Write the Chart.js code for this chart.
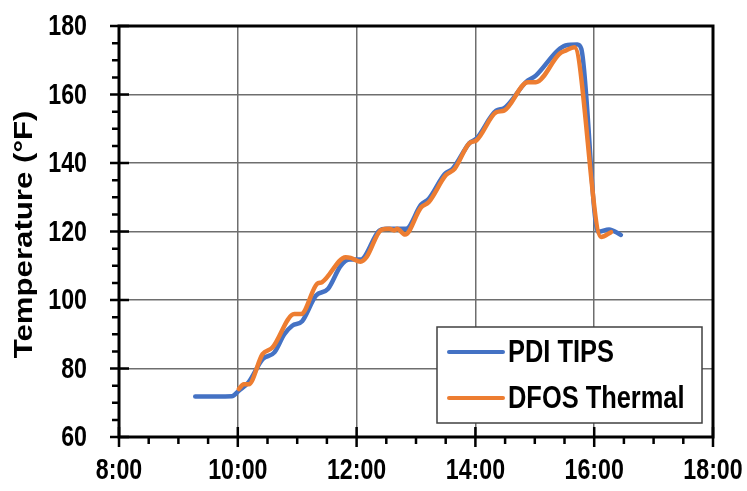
<!DOCTYPE html>
<html>
<head>
<meta charset="utf-8">
<script src="https://cdn.jsdelivr.net/npm/chart.js@4.4.1/dist/chart.umd.min.js"></script>
<style>
  html, body { margin: 0; padding: 0; background: #fff; }
  #wrap { width: 747px; height: 491px; }
</style>
</head>
<body>
<div id="wrap"><canvas id="c" width="747" height="491"></canvas></div>
<script>
// Temperature readings, time of day (H:MM) and °F
const pdiTimes = ['9:17','9:54','10:01','10:11','10:25','10:37','10:47','10:55','11:05','11:19','11:31','11:44','11:53','12:04','12:23','12:30','12:50','13:05','13:13','13:29','13:37','13:54','14:01','14:21','14:29','14:51','15:01','15:23','15:31','15:43','15:47','16:04','16:15','16:27'];
const pdiTemps = [71.8,71.9,73.5,76.0,82.7,84.7,90.0,92.5,93.8,101.3,103.2,110.0,111.8,111.8,120.3,120.8,120.8,127.8,129.6,136.8,138.3,145.8,147.1,155.3,156.0,163.6,165.5,172.8,174.3,174.6,173.3,119.9,120.6,119.0];

const dfosTimes = ['10:01','10:06','10:11','10:25','10:35','10:57','11:04','11:20','11:25','11:49','11:54','12:04','12:10','12:25','12:33','12:38','12:41','12:49','13:05','13:13','13:30','13:39','13:54','14:01','14:21','14:29','14:53','15:01','15:25','15:31','15:40','16:07','16:17'];
const dfosTemps = [74.0,75.4,75.4,84.2,86.1,95.9,95.9,104.7,105.2,112.5,112.3,111.2,112.5,120.5,120.8,120.3,120.8,119.1,127.0,128.6,136.4,138.3,145.8,146.6,154.8,155.3,163.6,163.6,171.9,172.8,173.8,118.4,119.8];

const seriesNames = ['PDI TIPS', 'DFOS Thermal'];
const axisTitle = 'Temperature (°F)';

const toHours = s => { const [h, m] = s.split(':').map(Number); return h + m / 60; };
const pairs = (times, temps) => times.map((t, i) => ({ x: toHours(t), y: temps[i] }));

const FAMILY = '"Liberation Sans", Arimo, Arial, sans-serif';
const NARROW = 0.8;   // horizontal squeeze for the condensed bold lettering

const xLabel = v => (v % 2 === 0) ? v + ':00' : '';
const yLabel = v => (v % 20 === 0) ? String(v) : '';

// Draw text squeezed horizontally around an anchor point
function squeezedText(ctx, text, x, y, align, size, sx) {
  ctx.save();
  ctx.translate(x, y);
  ctx.scale(sx, 1);
  ctx.font = 'bold ' + size + 'px ' + FAMILY;
  ctx.textAlign = align;
  ctx.textBaseline = 'middle';
  ctx.fillStyle = '#000';
  ctx.fillText(text, 0, 0);
  ctx.restore();
}

// Frame, tick marks, tick labels, rotated axis title and boxed legend
const decorations = {
  id: 'decorations',
  afterDraw(chart) {
    const { ctx, chartArea: a, scales: { x, y } } = chart;
    ctx.save();
    ctx.strokeStyle = '#000';
    ctx.lineWidth = 3;
    ctx.strokeRect(a.left, a.top, a.right - a.left, a.bottom - a.top);

    ctx.lineWidth = 2.5;
    ctx.beginPath();
    x.ticks.forEach(t => {
      const px = x.getPixelForValue(t.value);
      const major = t.value % 2 === 0;
      ctx.moveTo(px, a.bottom - (major ? 10 : 0));
      ctx.lineTo(px, a.bottom + (major ? 10 : 7));
    });
    y.ticks.forEach(t => {
      const py = y.getPixelForValue(t.value);
      const major = t.value % 20 === 0;
      ctx.moveTo(a.left + (major ? 10 : 0), py);
      ctx.lineTo(a.left - (major ? 9 : 7), py);
    });
    ctx.stroke();

    // tick labels
    x.ticks.forEach(t => {
      const s = xLabel(t.value);
      if (s) squeezedText(ctx, s, x.getPixelForValue(t.value), a.bottom + 34, 'center', 29, NARROW);
    });
    y.ticks.forEach(t => {
      const s = yLabel(t.value);
      if (s) squeezedText(ctx, s, a.left - 32, y.getPixelForValue(t.value) + 1, 'right', 29, NARROW);
    });

    // y-axis title
    ctx.save();
    ctx.translate(25, (a.top + a.bottom) / 2 + 3);
    ctx.rotate(-Math.PI / 2);
    ctx.scale(1.2, 1);
    ctx.fillStyle = '#000';
    ctx.font = 'bold 26px ' + FAMILY;
    ctx.textAlign = 'center';
    ctx.textBaseline = 'middle';
    ctx.fillText(axisTitle, 0, 0);
    ctx.restore();

    // legend
    const bx = 437, by = 327, bw = 265, bh = 96;
    ctx.fillStyle = '#fff';
    ctx.fillRect(bx, by, bw, bh);
    ctx.strokeStyle = '#404040';
    ctx.lineWidth = 1.5;
    ctx.strokeRect(bx, by, bw, bh);
    chart.data.datasets.forEach((ds, i) => {
      const ly = by + 25 + i * 46;
      ctx.strokeStyle = ds.borderColor;
      ctx.lineWidth = 4;
      ctx.lineCap = 'round';
      ctx.beginPath();
      ctx.moveTo(bx + 12, ly);
      ctx.lineTo(bx + 66, ly);
      ctx.stroke();
      squeezedText(ctx, ds.label, bx + 71, ly + 1, 'left', 31, 0.82);
    });
    ctx.restore();
  }
};

new Chart(document.getElementById('c'), {
  type: 'line',
  data: {
    datasets: [
      {
        label: seriesNames[0],
        data: pairs(pdiTimes, pdiTemps),
        borderColor: '#4472C4',
        borderWidth: 4.5,
        pointRadius: 0,
        cubicInterpolationMode: 'monotone',
        borderJoinStyle: 'round',
        borderCapStyle: 'round',
        order: 1
      },
      {
        label: seriesNames[1],
        data: pairs(dfosTimes, dfosTemps),
        borderColor: '#ED7D31',
        borderWidth: 4.5,
        pointRadius: 0,
        cubicInterpolationMode: 'monotone',
        borderJoinStyle: 'round',
        borderCapStyle: 'round',
        order: 0
      }
    ]
  },
  options: {
    responsive: false,
    animation: false,
    devicePixelRatio: 1,
    layout: { autoPadding: false, padding: { left: 0, top: 26, right: 34, bottom: 0 } },
    plugins: { legend: { display: false }, tooltip: { enabled: false } },
    scales: {
      x: {
        type: 'linear',
        min: 8, max: 18,
        afterFit: s => { s.height = 54; },
        grid: {
          color: c => (c.tick && c.tick.value % 2 === 0) ? '#6e6e6e' : 'rgba(0,0,0,0)',
          lineWidth: 1.5,
          drawTicks: false
        },
        border: { display: false },
        ticks: { display: false, stepSize: 0.5, autoSkip: false, maxTicksLimit: 100 }
      },
      y: {
        min: 60, max: 180,
        afterFit: s => { s.width = 119; },
        grid: {
          color: c => (c.tick && c.tick.value % 20 === 0) ? '#6e6e6e' : 'rgba(0,0,0,0)',
          lineWidth: 1.5,
          drawTicks: false
        },
        border: { display: false },
        ticks: { display: false, stepSize: 5, autoSkip: false, maxTicksLimit: 100 }
      }
    }
  },
  plugins: [decorations]
});
</script>
</body>
</html>
